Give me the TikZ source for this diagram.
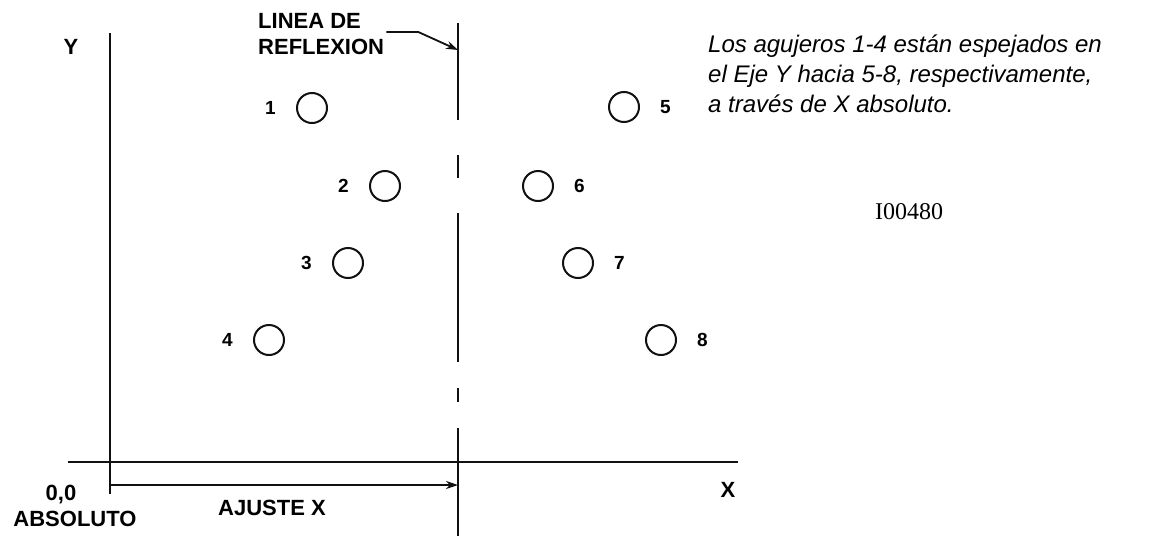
\documentclass[tikz,border=0pt]{standalone}
\usepackage{fontspec}
\setmainfont{Liberation Serif}
\setsansfont{Liberation Sans}
\usepackage{xcolor}
\usetikzlibrary{arrows.meta, positioning}
\definecolor{inkblack}{HTML}{111111}
\tikzset{
    hole/.style={circle, draw=inkblack, line width=2pt, inner sep=0pt, minimum size=30pt},
    holelabel/.style={inner sep=0pt, font=\sffamily\bfseries\fontsize{19}{21}\selectfont},
    axislabel/.style={inner sep=0pt, font=\sffamily\bfseries\fontsize{22}{26}\selectfont, align=left},
    axisline/.style={inkblack, line width=1.8pt},
    arr/.style={inkblack, line width=1.8pt, -{Stealth[length=12pt,width=8pt]}}
}

\begin{document}
\begin{tikzpicture}[x=1pt, y=-1pt]

    % =================================================================
    % LAYER 0: THE PAGE
    % =================================================================
    \fill[white] (0,0) rectangle (1164,536);
    \useasboundingbox (0,0) rectangle (1164,536);

    % =================================================================
    % LAYER 1: THE AXES
    % =================================================================
    \coordinate (ytop) at (110,33);
    \coordinate (ybot) at (110,494);
    \coordinate (xleft) at (68,462);
    \coordinate (xright) at (738,462);
    \draw[axisline] (ytop) -- (ybot);
    \draw[axisline] (xleft) -- (xright);

    \node[axislabel] (ylabel) at (71,47) {Y};
    \node[axislabel] (xlabel) at (728,490) {X};
    \node[axislabel] (orig) at (61,495) {0,0};
    \node[axislabel, below=6pt of orig.south, xshift=14pt] (abs) {ABSOLUTO};

    % =================================================================
    % LAYER 2: THE REFLECTION LINE
    % =================================================================
    \coordinate (rtop) at (458,23);
    \coordinate (rbot) at (458,536);
    \coordinate (rtip) at (458,50);
    \coordinate (rfoot) at (458,485);
    \draw[axisline, dash pattern=on 97pt off 35pt on 23pt off 35pt on 149pt off 26pt on 14pt off 26pt on 200pt]
        (rtop) -- (rbot);

    \node[axislabel, anchor=base west] (lref) at (258,54) {LINEA DE\\REFLEXION};
    \draw[arr] ([xshift=2pt]lref.east |- 0,32) -- ++(32,0) -- (rtip);

    % =================================================================
    % LAYER 3: THE X OFFSET
    % =================================================================
    \coordinate (ostart) at (110,485);
    \draw[arr] (ostart) -- (rfoot);
    \node[axislabel] (ajuste) at (272,508) {AJUSTE X};

    % =================================================================
    % LAYER 4: THE HOLES
    % =================================================================
    \foreach \n/\x/\y in {1/312/108, 2/385/186, 3/348/263, 4/269/340}{
        \node[hole] (h\n) at (\x,\y) {};
        \node[holelabel, left=20pt of h\n] (l\n) {\n};
    }
    \foreach \n/\x/\y in {5/624/107, 6/538/186, 7/578/263, 8/661/340}{
        \node[hole] (h\n) at (\x,\y) {};
        \node[holelabel, right=20pt of h\n] (l\n) {\n};
    }

    % =================================================================
    % LAYER 5: THE NOTE
    % =================================================================
    \node[inner sep=0pt, anchor=base west, align=left, font=\sffamily\itshape\fontsize{24}{30}\selectfont]
        (note) at (708,112) {Los agujeros 1-4 están espejados en\\el Eje Y hacia 5-8, respectivamente,\\a través de X absoluto.};
    \node[inner sep=0pt, font=\fontsize{24}{26}\selectfont] (ref) at (909,212) {I00480};

\end{tikzpicture}
\end{document}
